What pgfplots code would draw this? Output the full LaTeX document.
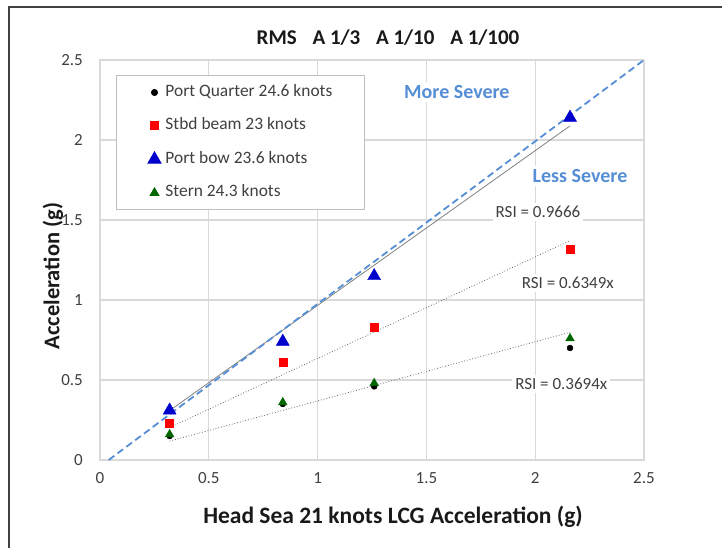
\documentclass[border=0pt]{standalone}
\usepackage{pgfplots}
\pgfplotsset{compat=1.18}
\usepackage{fontspec}
\setmainfont{Carlito}

\definecolor{gridgray}{HTML}{D9D9D9}
\definecolor{boxgray}{HTML}{BFBFBF}
\definecolor{ticktext}{HTML}{404040}
\definecolor{refblue}{HTML}{558ED5}
\definecolor{markblue}{HTML}{0000CC}
\definecolor{markred}{HTML}{FF0000}
\definecolor{markgreen}{HTML}{006600}

% Peak acceleration at four hull locations versus head-sea LCG acceleration
\pgfplotstableread{
x     y
0.32  0.15
0.84  0.35
1.26  0.46
2.16  0.70
}\portquarter
\pgfplotstableread{
x     y
0.32  0.23
0.84  0.61
1.26  0.83
2.16  1.32
}\stbdbeam
\pgfplotstableread{
x     y
0.32  0.31
0.84  0.74
1.26  1.15
2.16  2.14
}\portbow
\pgfplotstableread{
x     y
0.32  0.16
0.84  0.36
1.26  0.48
2.16  0.76
}\stern

\pgfplotsset{
  scatterpts/.style={only marks,
    legend image code/.code={\path[draw=none,fill=none] (-10pt,0pt) -- (10pt,0pt);
      \draw[##1, /tikz/only marks] plot coordinates {(0pt,0pt)};}},
}

\newcommand{\legtext}[1]{\makebox[171pt][l]{#1}}

\begin{document}
\begin{tikzpicture}[x=1pt,y=1pt]
\useasboundingbox (0,0) rectangle (722,548);
\draw[line width=1.5pt, black!75] (9,-2) -- (9,541) -- (724,541);

\node[font=\fontsize{21}{25}\selectfont\bfseries, text=black!90] at (388,510)
  {RMS\hspace{0.75em}A 1/3\hspace{0.75em}A 1/10\hspace{0.75em}A 1/100};

\node[rotate=90, font=\fontsize{22.5}{26}\selectfont\bfseries, text=black!90] at (53,272)
  {Acceleration (g)};
\node[font=\fontsize{23.5}{27}\selectfont\bfseries, text=black!90] at (393,31)
  {Head Sea 21 knots LCG Acceleration (g)};

\begin{axis}[
  at={(100pt,88pt)}, anchor=south west,
  scale only axis, width=544pt, height=400pt,
  xmin=0, xmax=2.5, ymin=0, ymax=2.5,
  xtick={0,0.5,1,1.5,2,2.5},
  ytick={0,0.5,1,1.5,2,2.5},
  grid=major,
  grid style={gridgray, line width=1.2pt},
  axis line style={gridgray, line width=1.2pt},
  major tick length=0pt,
  tick style={draw=none},
  tick label style={font=\fontsize{17}{20}\selectfont, text=ticktext},
  /pgf/number format/assume math mode=true,
  yticklabel style={anchor=east, inner sep=0pt, xshift=-17pt},
  xticklabel style={anchor=north, inner sep=0pt, yshift=-12pt},
  clip=false,
  legend cell align=left,
  legend style={
    at={(rel axis cs:0.0294,0.9625)}, anchor=north west,
    draw=boxgray, line width=1pt, fill=white,
    font=\fontsize{17.4}{20}\selectfont, text=ticktext,
    inner xsep=28pt, inner ysep=9pt,
    row sep=17.5pt, column sep=1pt,
    nodes={inner sep=0pt, text height=12pt, text depth=4pt},
  },
]

% trend lines (RSI fits)
\addplot[forget plot, black!50, line width=0.8pt] coordinates {(0.32,0.309) (2.16,2.088)};
\addplot[forget plot, black!60, line width=0.8pt, dotted] coordinates {(0.32,0.203) (2.16,1.371)};
\addplot[forget plot, black!60, line width=0.8pt, dotted] coordinates {(0.32,0.118) (2.16,0.798)};

% equal-severity reference line
\addplot[forget plot, refblue, line width=1.8pt, dash pattern=on 7pt off 4pt]
  coordinates {(0.04,0) (2.5,2.5)};

\addplot[scatterpts, mark=*, mark size=3pt, black] table {\portquarter};
\addlegendentry{\legtext{Port Quarter 24.6 knots}}
\addplot[scatterpts, mark=square*, mark size=4pt, markred] table {\stbdbeam};
\addlegendentry{\legtext{Stbd beam 23 knots}}
\addplot[scatterpts, mark=triangle*, mark size=7.5pt, markblue] table {\portbow};
\addlegendentry{\legtext{Port bow 23.6 knots}}
\addplot[scatterpts, mark=triangle*, mark size=5pt, markgreen] table {\stern};
\addlegendentry{\legtext{Stern 24.3 knots}}

\node[font=\fontsize{20}{24}\selectfont\bfseries, text=refblue, fill=white, inner sep=3pt]
  at (axis cs:1.64,2.30) {More Severe};
\node[font=\fontsize{20}{24}\selectfont\bfseries, text=refblue, fill=white, inner sep=3pt]
  at (axis cs:2.206,1.775) {Less Severe};
\node[font=\fontsize{17}{20}\selectfont, text=ticktext, fill=white, inner sep=3pt]
  at (axis cs:2.013,1.55) {RSI = 0.9666};
\node[font=\fontsize{17}{20}\selectfont, text=ticktext, fill=white, inner sep=3pt]
  at (axis cs:2.15,1.106) {RSI = 0.6349x};
\node[font=\fontsize{17}{20}\selectfont, text=ticktext, fill=white, inner sep=3pt]
  at (axis cs:2.12,0.475) {RSI = 0.3694x};
\end{axis}
\end{tikzpicture}
\end{document}
